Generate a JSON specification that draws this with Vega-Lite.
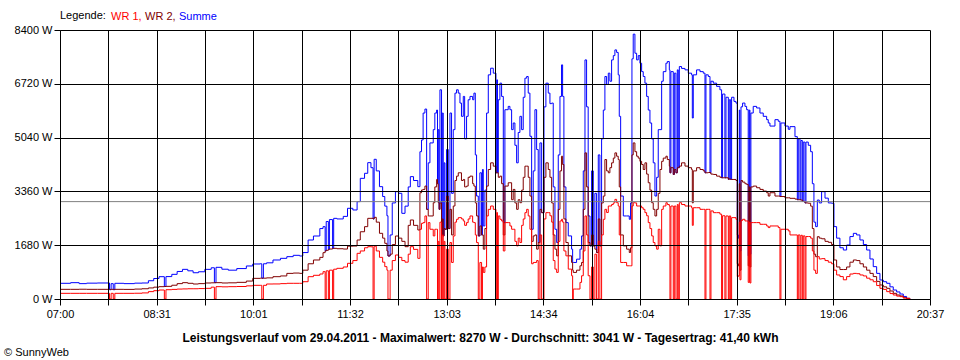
{
"$schema":"https://vega.github.io/schema/vega-lite/v6.json",
"width":870,"height":269,
"autosize":{"type":"none"},
"padding":{"left":60,"top":30,"right":30,"bottom":61},
"background":"white",
"config":{"font":"Liberation Sans","view":{"stroke":null}},
"title":{"text":"© SunnyWeb","orient":"bottom","anchor":"start","dx":-10,"offset":4,"fontSize":11,"fontWeight":"normal","color":"black","font":"Liberation Sans"},
"datasets":{"power":[
{"t":420,"r":177,"d":302,"s":490},{"t":430,"r":177,"d":302,"s":510},{"t":438,"r":177,"d":305,"s":480},{"t":445,"r":177,"d":302,"s":495},{"t":455,"r":177,"d":302,"s":500},
{"t":466.5,"r":0,"d":300,"s":290},{"t":468,"r":177,"d":302,"s":480},{"t":470,"r":0,"d":300,"s":290},{"t":471.5,"r":177,"d":302,"s":490},
{"t":480,"r":177,"d":300,"s":480},{"t":490,"r":180,"d":310,"s":495},{"t":497,"r":190,"d":320,"s":500},{"t":503,"r":230,"d":345,"s":570},{"t":508,"r":260,"d":370,"s":640},{"t":513,"r":281,"d":385,"s":697},
{"t":518,"r":0,"d":390,"s":390},{"t":519.5,"r":290,"d":395,"s":700},{"t":525,"r":300,"d":430,"s":770},{"t":530,"r":310,"d":480,"s":860},{"t":535,"r":315,"d":510,"s":926},{"t":540,"r":320,"d":490,"s":880},
{"t":545,"r":320,"d":468,"s":820},{"t":550,"r":325,"d":480,"s":850},{"t":556,"r":333,"d":500,"s":926},{"t":562,"r":370,"d":505,"s":975},{"t":565,"r":0,"d":510,"s":510},{"t":566.5,"r":385,"d":510,"s":989},
{"t":572,"r":380,"d":500,"s":930},{"t":578,"r":385,"d":505,"s":900},{"t":586,"r":390,"d":520,"s":950},{"t":595,"r":410,"d":560,"s":1031},{"t":601,"r":427,"d":645,"s":1093},{"t":608,"r":427,"d":650,"s":1100},
{"t":609.5,"r":0,"d":650,"s":650},{"t":611,"r":427,"d":650,"s":1100},{"t":614,"r":468,"d":660,"s":1130},{"t":620,"r":470,"d":697,"s":1218},{"t":627,"r":480,"d":720,"s":1270},{"t":633,"r":490,"d":800,"s":1322},
{"t":639,"r":490,"d":810,"s":1364},{"t":645,"r":490,"d":801,"s":1343},{"t":648,"r":540,"d":900,"s":1450},{"t":653,"r":697,"d":1100,"s":1842},{"t":658,"r":740,"d":1218,"s":1967},{"t":664,"r":781,"d":1300,"s":2200},
{"t":667,"r":853,"d":1447,"s":2259},{"t":669,"r":0,"d":1500,"s":1500},{"t":670,"r":880,"d":1520,"s":2420},{"t":672,"r":0,"d":1550,"s":1550},{"t":673,"r":900,"d":1560,"s":2480},{"t":676,"r":0,"d":1582,"s":1582},
{"t":677,"r":930,"d":1582,"s":2519},{"t":680,"r":958,"d":1570,"s":2500},{"t":686,"r":1000,"d":1560,"s":2580},{"t":690,"r":1114,"d":1650,"s":2832},{"t":695,"r":1200,"d":1655,"s":2780},{"t":699,"r":1426,"d":1842,"s":3040},
{"t":702,"r":1500,"d":2100,"s":3768},{"t":706,"r":1600,"d":2259,"s":3925},{"t":709,"r":1634,"d":2519,"s":4258},{"t":712,"r":1630,"d":2520,"s":4100},{"t":714,"r":0,"d":2500,"s":2500},{"t":715,"r":1650,"d":2550,"s":4362},
{"t":717,"r":1500,"d":2400,"s":4000},{"t":720,"r":1300,"d":2051,"s":3508},{"t":723,"r":1150,"d":1900,"s":3200},{"t":725,"r":1010,"d":1738,"s":2900},{"t":727,"r":900,"d":1500,"s":2600},{"t":728,"r":0,"d":1343,"s":1343},
{"t":730,"r":900,"d":1400,"s":2000},{"t":732,"r":1200,"d":1700,"s":3000},{"t":735,"r":1374,"d":1967,"s":3352},{"t":738,"r":1300,"d":1900,"s":3300},{"t":741,"r":1200,"d":1800,"s":2675},{"t":744,"r":1150,"d":1634,"s":2900},
{"t":747,"r":1400,"d":2300,"s":3500},{"t":749,"r":1634,"d":2467,"s":3821},{"t":752,"r":1550,"d":2300,"s":3700},{"t":756,"r":1270,"d":2155,"s":3508},
{"t":758,"r":2178,"d":3318,"s":4600},{"t":759.5,"r":2363,"d":3404,"s":4966},{"t":761,"r":2385,"d":3422,"s":5807},{"t":762.7,"r":2593,"d":3526,"s":5931},{"t":764.3,"r":0,"d":2800,"s":2800},{"t":765.8,"r":2385,"d":2593,"s":4252},
{"t":767.4,"r":2178,"d":2593,"s":4874},{"t":770.5,"r":1970,"d":3007,"s":5289},{"t":772,"r":2178,"d":3500,"s":5807},{"t":773.7,"r":2178,"d":3733,"s":5900},{"t":774.5,"r":0,"d":3600,"s":3600},{"t":775.2,"r":1800,"d":3007,"s":5289},
{"t":776,"r":0,"d":2800,"s":2800},{"t":776.8,"r":2400,"d":3000,"s":6533},{"t":778.3,"r":0,"d":2000,"s":2000},{"t":779,"r":2000,"d":2500,"s":5807},{"t":779.9,"r":0,"d":1970,"s":1970},{"t":780.7,"r":1800,"d":2200,"s":4252},
{"t":781.5,"r":0,"d":2178,"s":2178},{"t":783,"r":1556,"d":3215,"s":4667},{"t":784.6,"r":0,"d":2200,"s":2200},{"t":786.2,"r":1763,"d":2800,"s":5807},{"t":787.7,"r":1141,"d":2000,"s":3300},{"t":789.3,"r":1970,"d":2904,"s":5289},
{"t":790.9,"r":2400,"d":3700,"s":6429},{"t":792.4,"r":2489,"d":3837,"s":6533},{"t":794,"r":2541,"d":3941,"s":6429},{"t":795.6,"r":2541,"d":3941,"s":6118},{"t":797,"r":2500,"d":3700,"s":5704},{"t":798.7,"r":2437,"d":3733,"s":6326},
{"t":800,"r":2300,"d":3500,"s":5000},{"t":801.8,"r":2385,"d":3526,"s":5704},{"t":803.3,"r":2500,"d":3800,"s":6222},{"t":805,"r":2593,"d":3837,"s":6326},{"t":807.5,"r":2400,"d":3600,"s":6222},{"t":808.7,"r":2385,"d":3526,"s":6429},
{"t":810,"r":2000,"d":3000,"s":4500},{"t":811.2,"r":1763,"d":2593,"s":3215},{"t":812.8,"r":0,"d":1970,"s":1970},{"t":814.3,"r":1141,"d":2281,"s":3941},{"t":815.9,"r":0,"d":2000,"s":2000},{"t":816.7,"r":1000,"d":2000,"s":4044},
{"t":817.5,"r":830,"d":1556,"s":2281},{"t":819,"r":1000,"d":2200,"s":3400},{"t":820.6,"r":2593,"d":3526,"s":5807},{"t":822.2,"r":2800,"d":4044,"s":7000},{"t":824.4,"r":2904,"d":4252,"s":7207},{"t":826.9,"r":2800,"d":4148,"s":7052},
{"t":829.4,"r":0,"d":3941,"s":3941},{"t":830.2,"r":2700,"d":3941,"s":6844},{"t":830.8,"r":0,"d":3941,"s":3941},{"t":831.6,"r":2593,"d":3800,"s":6222},{"t":833.1,"r":2489,"d":3837,"s":6740},{"t":834.7,"r":2437,"d":3600,"s":6326},
{"t":836.3,"r":1500,"d":2000,"s":2385},{"t":837.8,"r":2385,"d":3526,"s":5911},{"t":840.9,"r":2385,"d":3630,"s":6015},{"t":842.5,"r":2281,"d":3630,"s":5911},{"t":844.1,"r":2178,"d":3100,"s":5289},{"t":845.6,"r":2178,"d":3422,"s":5496},
{"t":847.2,"r":1800,"d":3000,"s":4800},{"t":848.8,"r":1659,"d":2800,"s":4252},{"t":850.3,"r":1900,"d":3100,"s":5200},{"t":851.9,"r":1763,"d":3007,"s":5704},{"t":853.5,"r":2300,"d":3400,"s":5289},{"t":855,"r":2500,"d":3800,"s":6300},
{"t":856.6,"r":2696,"d":4148,"s":6896},{"t":858.2,"r":2800,"d":4148,"s":6948},{"t":859.7,"r":2593,"d":3800,"s":6429},{"t":861.3,"r":2178,"d":3215,"s":5081},{"t":862.9,"r":1100,"d":1800,"s":2178},{"t":864.4,"r":1141,"d":1970,"s":4000},
{"t":866,"r":1141,"d":2000,"s":5911},{"t":867.6,"r":1200,"d":1556,"s":4667},{"t":869.1,"r":0,"d":1763,"s":1763},{"t":870.7,"r":2000,"d":2800,"s":4874},{"t":872.3,"r":0,"d":2696,"s":2696},{"t":874.5,"r":2500,"d":3800,"s":6000},
{"t":876.3,"r":2696,"d":4252,"s":6740},{"t":878.5,"r":2696,"d":4044,"s":6429},{"t":880.1,"r":2600,"d":3800,"s":6100},{"t":881.7,"r":2400,"d":3000,"s":6118},{"t":883.2,"r":1200,"d":2000,"s":3500},{"t":884.8,"r":933,"d":1556,"s":2178},
{"t":886.4,"r":830,"d":1348,"s":1763},{"t":887.9,"r":1800,"d":2800,"s":4500},{"t":889.5,"r":2437,"d":4000,"s":6326},{"t":891,"r":2489,"d":4459,"s":7311},{"t":892,"r":2400,"d":4200,"s":6326},{"t":893.2,"r":1500,"d":2500,"s":3500},
{"t":895.1,"r":1348,"d":1763,"s":2385},{"t":897.3,"r":933,"d":1348,"s":1970},{"t":900.4,"r":726,"d":1141,"s":1556},{"t":901.4,"r":0,"d":900,"s":1141},{"t":902,"r":311,"d":830,"s":1141},{"t":905.1,"r":311,"d":900,"s":1244},
{"t":908.3,"r":519,"d":1037,"s":1556},{"t":909.8,"r":726,"d":1141,"s":1970},{"t":911.4,"r":1500,"d":2800,"s":4000},{"t":913,"r":2593,"d":4563,"s":7466},{"t":914.5,"r":2000,"d":3500,"s":6000},{"t":916,"r":726,"d":1763,"s":2593},
{"t":917.7,"r":0,"d":1659,"s":1659},{"t":919.2,"r":1000,"d":2000,"s":4000},{"t":920.8,"r":0,"d":1659,"s":1659},{"t":922.3,"r":1400,"d":1556,"s":3300},{"t":923.9,"r":0,"d":1452,"s":1452},{"t":925.5,"r":1800,"d":2500,"s":4500},
{"t":927,"r":0,"d":1659,"s":1659},{"t":928.6,"r":2000,"d":3000,"s":5000},{"t":930.2,"r":2489,"d":3215,"s":5900},{"t":931.7,"r":2800,"d":4355,"s":6948},{"t":933.3,"r":2700,"d":4000,"s":6700},{"t":934.9,"r":2904,"d":3941,"s":7052},
{"t":936.4,"r":2904,"d":4100,"s":6800},{"t":938,"r":2950,"d":4252,"s":7466},{"t":939.6,"r":3000,"d":4400,"s":7600},{"t":941.1,"r":3111,"d":4563,"s":7778},{"t":942.7,"r":3007,"d":4459,"s":7700},{"t":944.2,"r":2904,"d":4355,"s":7000},
{"t":945.2,"r":2000,"d":3500,"s":5704},{"t":946.5,"r":1141,"d":2000,"s":3215},{"t":949,"r":1141,"d":1659,"s":2593},{"t":952.1,"r":1037,"d":1556,"s":2593},{"t":954.6,"r":1037,"d":1452,"s":2489},{"t":955.8,"r":1037,"d":1600,"s":3000},
{"t":957.1,"r":2904,"d":4500,"s":7500},{"t":958.3,"r":3007,"d":4874,"s":8270},{"t":959.9,"r":3000,"d":4600,"s":7674},{"t":961.5,"r":2904,"d":4459,"s":7466},{"t":963,"r":2904,"d":4400,"s":7600},{"t":964.6,"r":2904,"d":4300,"s":7363},
{"t":966.2,"r":2850,"d":4200,"s":7100},{"t":967.7,"r":2800,"d":4044,"s":6948},{"t":969.3,"r":2696,"d":4252,"s":6740},{"t":970.9,"r":2600,"d":3900,"s":6326},{"t":972.4,"r":2385,"d":3630,"s":5900},{"t":974,"r":2200,"d":3400,"s":5496},
{"t":975.6,"r":1970,"d":3007,"s":5000},{"t":977.1,"r":1763,"d":2800,"s":4252},{"t":978.7,"r":1659,"d":2593,"s":3215},{"t":980.3,"r":1556,"d":2800,"s":3800},{"t":981.8,"r":2178,"d":3300,"s":5289},{"t":983.4,"r":1659,"d":4044,"s":5289},
{"t":985,"r":2800,"d":4300,"s":6800},{"t":986.5,"r":2904,"d":4400,"s":7100},{"t":989,"r":3007,"d":4459,"s":7363},{"t":990.3,"r":2950,"d":4355,"s":7415},{"t":992.2,"r":2904,"d":4148,"s":7155},{"t":992.8,"r":0,"d":3941,"s":3941},
{"t":993.7,"r":2904,"d":4100,"s":7100},{"t":995.9,"r":0,"d":3889,"s":3889},{"t":996.9,"r":2904,"d":4044,"s":7052},{"t":998.4,"r":0,"d":3941,"s":3941},{"t":999.7,"r":2950,"d":4100,"s":7155},{"t":1000.6,"r":0,"d":4100,"s":4100},
{"t":1001.6,"r":3007,"d":4150,"s":7259},{"t":1003.7,"r":2950,"d":4252,"s":7200},{"t":1006.9,"r":2904,"d":4150,"s":7155},{"t":1010,"r":2904,"d":4100,"s":7052},{"t":1013.1,"r":2850,"d":4044,"s":7000},{"t":1013.8,"r":2300,"d":3000,"s":5652},
{"t":1014.7,"r":2850,"d":4000,"s":7000},{"t":1017.8,"r":2850,"d":4100,"s":7155},{"t":1021,"r":2800,"d":4044,"s":7100},{"t":1024.1,"r":2800,"d":4000,"s":7052},{"t":1025.7,"r":0,"d":3941,"s":3941},{"t":1026.6,"r":2800,"d":3941,"s":7000},
{"t":1028.8,"r":2800,"d":3950,"s":6948},{"t":1030.4,"r":0,"d":3941,"s":3941},{"t":1031.3,"r":2750,"d":3900,"s":6800},{"t":1033.5,"r":2696,"d":3889,"s":6740},{"t":1036.6,"r":2696,"d":3837,"s":6640},{"t":1039.7,"r":2650,"d":3800,"s":6533},
{"t":1041.3,"r":0,"d":3785,"s":3785},{"t":1042.2,"r":2600,"d":3785,"s":6400},{"t":1044.4,"r":0,"d":3785,"s":3785},{"t":1045.4,"r":2593,"d":3785,"s":6300},{"t":1047.6,"r":0,"d":3737,"s":3737},{"t":1048.5,"r":2593,"d":3750,"s":6222},
{"t":1049.8,"r":0,"d":3733,"s":3733},{"t":1050.7,"r":2541,"d":3733,"s":6300},{"t":1052.9,"r":2541,"d":3733,"s":6170},{"t":1054.8,"r":2489,"d":3700,"s":6118},{"t":1056,"r":700,"d":1100,"s":2000},{"t":1057,"r":726,"d":1037,"s":1900},
{"t":1057.9,"r":2400,"d":3600,"s":5900},{"t":1058.5,"r":600,"d":900,"s":1500},{"t":1059.5,"r":2450,"d":3700,"s":6000},{"t":1061,"r":2489,"d":3650,"s":6118},{"t":1063.2,"r":2437,"d":3600,"s":6015},{"t":1064.8,"r":2437,"d":3578,"s":5911},
{"t":1066.3,"r":519,"d":1037,"s":1348},{"t":1067.3,"r":2400,"d":3500,"s":5900},{"t":1067.9,"r":500,"d":1000,"s":1400},{"t":1068.8,"r":2385,"d":3500,"s":5807},{"t":1071,"r":2385,"d":3526,"s":6015},{"t":1074.2,"r":2385,"d":3474,"s":5965},
{"t":1077.3,"r":2333,"d":3422,"s":5807},{"t":1080.4,"r":2333,"d":3370,"s":5704},{"t":1083.6,"r":2281,"d":3318,"s":5600},{"t":1085.1,"r":2230,"d":3215,"s":5496},{"t":1086.7,"r":2281,"d":3318,"s":5400},{"t":1091.4,"r":2281,"d":3215,"s":5600},
{"t":1094.5,"r":2230,"d":3215,"s":5550},{"t":1096.1,"r":0,"d":3200,"s":3200},{"t":1097,"r":2178,"d":3200,"s":5496},{"t":1100.8,"r":2178,"d":3160,"s":5400},{"t":1103.9,"r":2126,"d":3160,"s":5300},{"t":1105.5,"r":2000,"d":3144,"s":5382},
{"t":1110.2,"r":2000,"d":3120,"s":5070},{"t":1112.4,"r":0,"d":3100,"s":3100},{"t":1113.3,"r":2000,"d":3100,"s":5000},{"t":1114.9,"r":0,"d":3100,"s":3100},{"t":1115.8,"r":1990,"d":3090,"s":4950},{"t":1117.1,"r":0,"d":3050,"s":3050},
{"t":1118,"r":1970,"d":3050,"s":4900},{"t":1119.6,"r":0,"d":3000,"s":3000},{"t":1120.5,"r":1950,"d":3000,"s":4900},{"t":1122.7,"r":1950,"d":2990,"s":4800},{"t":1124.9,"r":1900,"d":2900,"s":4600},{"t":1126.5,"r":1500,"d":2200,"s":3600},
{"t":1128,"r":900,"d":1400,"s":2400},{"t":1129.6,"r":800,"d":1320,"s":2260},{"t":1131.2,"r":1322,"d":1946,"s":3090},{"t":1133,"r":1250,"d":1900,"s":3000},{"t":1135.2,"r":1260,"d":1880,"s":3352},{"t":1138.4,"r":1200,"d":1800,"s":3150},
{"t":1141.5,"r":1150,"d":1770,"s":3000},{"t":1144.6,"r":1100,"d":1700,"s":2990},{"t":1146.8,"r":900,"d":1218,"s":2260},{"t":1149.3,"r":750,"d":1000,"s":1900},{"t":1152.4,"r":700,"d":920,"s":1600},{"t":1155.6,"r":600,"d":920,"s":1530},
{"t":1158.7,"r":700,"d":1000,"s":1686},{"t":1161.8,"r":780,"d":1150,"s":1950},{"t":1165,"r":800,"d":1218,"s":2050},{"t":1168.1,"r":790,"d":1200,"s":2000},{"t":1171.2,"r":750,"d":1100,"s":1843},{"t":1174.4,"r":720,"d":1000,"s":1700},
{"t":1177.5,"r":650,"d":900,"s":1530},{"t":1180.6,"r":600,"d":800,"s":1250},{"t":1183.7,"r":540,"d":700,"s":1010},{"t":1186.9,"r":420,"d":550,"s":800},{"t":1190,"r":333,"d":437,"s":593},{"t":1193.1,"r":300,"d":380,"s":540},
{"t":1196.3,"r":230,"d":333,"s":490},{"t":1199.4,"r":170,"d":250,"s":380},{"t":1202.5,"r":125,"d":177,"s":281},{"t":1205.7,"r":90,"d":125,"s":220},{"t":1208.8,"r":73,"d":94,"s":156},{"t":1211.9,"r":30,"d":40,"s":80},
{"t":1215,"r":20,"d":20,"s":20},{"t":1218,"r":0,"d":0,"s":0}
],"average":[{"avg":3041}]},
"layer":[
 {"data":{"name":"power"},
  "mark":{"type":"line","interpolate":"step-after","strokeWidth":1},
  "encoding":{
   "x":{"field":"t","type":"quantitative",
    "scale":{"domain":[420,1237],"nice":false,"zero":false},
    "axis":{"values":[420,465.389,510.778,556.167,601.556,646.944,692.333,737.722,783.111,828.5,873.889,919.278,964.667,1010.056,1055.444,1100.833,1146.222,1191.611,1237],
     "labelExpr":"['07:00','','08:31','','10:01','','11:32','','13:03','','14:34','','16:04','','17:35','','19:06','','20:37'][round((datum.value-420)/45.3889)]",
     "grid":true,"gridColor":"black","gridOpacity":1,"gridWidth":1,
     "domainColor":"black","domainWidth":1,"tickColor":"black","tickSize":6,"tickWidth":1,
     "labelFontSize":11,"labelColor":"black","labelPadding":3,"labelFlush":false,"labelOverlap":false,"labelFont":"Liberation Sans",
     "title":"Leistungsverlauf vom 29.04.2011 - Maximalwert: 8270 W - Durchschnitt: 3041 W - Tagesertrag: 41,40 kWh",
     "titleFont":"Liberation Sans","titleFontSize":12,"titleFontWeight":"bold","titleColor":"black",
     "titleX":420,"titleY":38,"titleBaseline":"middle","titleAlign":"center","zindex":1}},
   "y":{"field":"s","type":"quantitative","scale":{"domain":[0,8400],"nice":false},
    "axis":{"values":[0,1680,3360,5040,6720,8400],"labelExpr":"datum.value + ' W'","title":null,
     "grid":true,"gridColor":"black","gridOpacity":1,"gridWidth":1,
     "domainColor":"black","tickColor":"black","tickSize":6,"labelFontSize":11,"labelColor":"black","labelPadding":2,"labelFont":"Liberation Sans","zindex":1}},
   "color":{"datum":"Summe","type":"nominal",
    "scale":{"domain":["WR 1","WR 2","Summe"],"range":["#ff0000","#800000","#0000ff"]},
    "legend":{"title":"Legende:","orient":"none","legendX":0,"legendY":-19,"direction":"horizontal","titleOrient":"left","gridAlign":"none",
     "titleFontWeight":"normal","titleFontSize":11,"titleFont":"Liberation Sans","titleColor":"black","titlePadding":4,
     "labelFontSize":11,"labelFont":"Liberation Sans","labelOffset":-10,"columnPadding":2,
     "symbolSize":0,"symbolStrokeWidth":0,"symbolOpacity":0,
     "labelExpr":"datum.label == 'Summe' ? datum.label : datum.label + ','",
     "encode":{"labels":{"update":{"fill":{"scale":"color","field":"value"}}}}}}}},
 {"data":{"name":"power"},
  "mark":{"type":"line","interpolate":"step-after","strokeWidth":1},
  "encoding":{"x":{"field":"t","type":"quantitative"},"y":{"field":"d","type":"quantitative"},"color":{"datum":"WR 2","type":"nominal"}}},
 {"data":{"name":"power"},
  "mark":{"type":"line","interpolate":"step-after","strokeWidth":1},
  "encoding":{"x":{"field":"t","type":"quantitative"},"y":{"field":"r","type":"quantitative"},"color":{"datum":"WR 1","type":"nominal"}}},
 {"data":{"name":"average"},
  "mark":{"type":"rule","color":"#808080","strokeWidth":1},
  "encoding":{"y":{"field":"avg","type":"quantitative"}}}
]
}
